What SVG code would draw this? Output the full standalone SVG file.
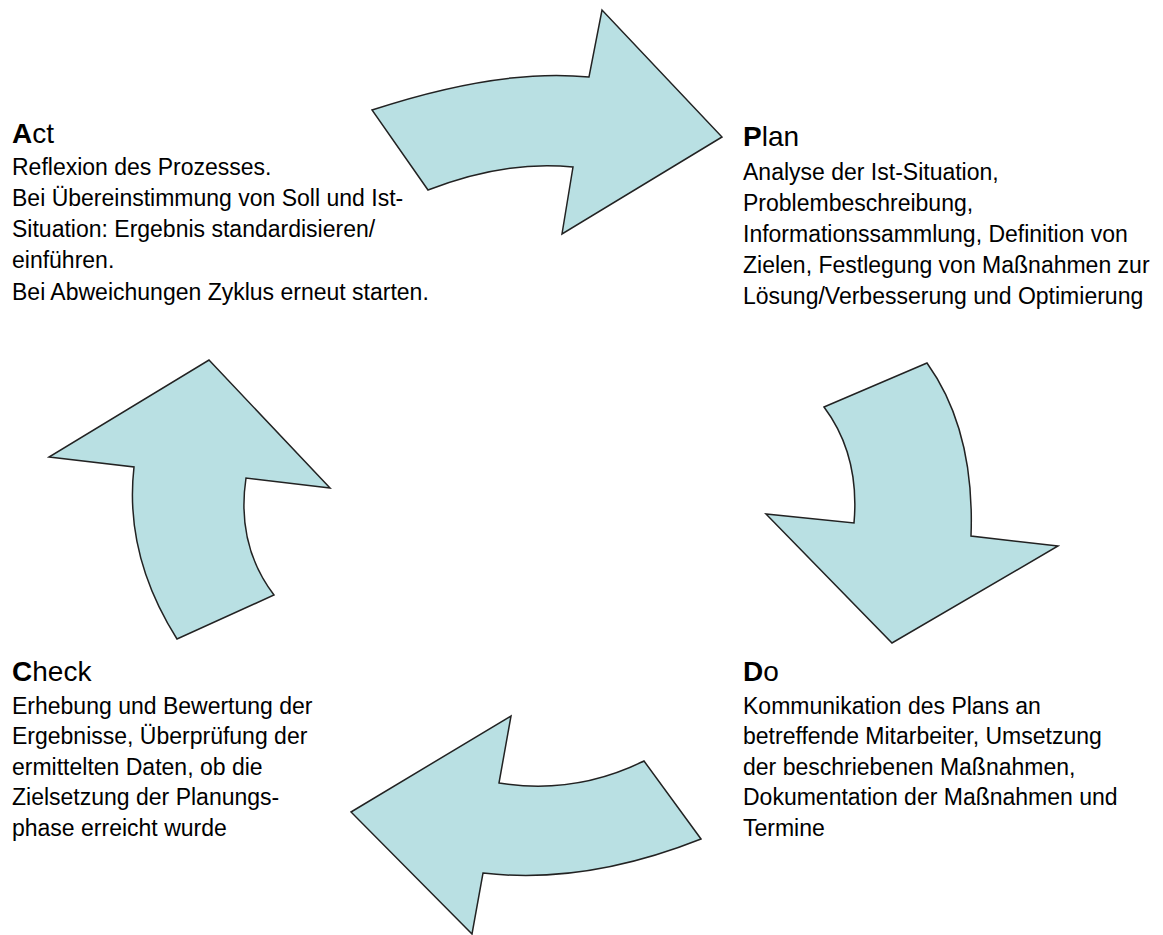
<svg xmlns="http://www.w3.org/2000/svg" width="1163" height="935" viewBox="0 0 1163 935">
  <style>
    .arrow { fill: #b9e0e3; stroke: #222; stroke-width: 1.5; stroke-linejoin: miter; }
    .title { font-family: "Liberation Sans", Arial, sans-serif; font-size: 28px; fill: #000; }
    .title tspan.k { font-weight: bold; }
    .body { font-family: "Liberation Sans", Arial, sans-serif; font-size: 23px; fill: #000; }
  </style>
  <rect width="1163" height="935" fill="#fff"/>

  <!-- curved cycle arrows -->
  <g id="connectors">
    <!-- Act -> Plan (top) -->
    <path class="arrow" d="M372,110 Q500,68 589,77 L602,10 L722,137 L562,234 L573,167 Q505,160 428,190 Z"/>
    <!-- Plan -> Do (right) -->
    <path class="arrow" d="M824,407 L927,363 Q975,430 971,536 L1058,546 L892,643 L766,514 L854,523 Q860,455 824,407 Z"/>
    <!-- Do -> Check (bottom) -->
    <path class="arrow" d="M511,716 L499,783 Q575,795 644,761 L701,839 Q585,885 483,873 L472,934 L351,812 Z"/>
    <!-- Check -> Act (left) -->
    <path class="arrow" d="M209,360 L330,488 L246,478 Q236,545 274,595 L177,639 Q124,555 134,467 L49,457 Z"/>
  </g>

  <g id="act">
    <text class="title" x="12" y="143"><tspan class="k">A</tspan>ct</text>
    <text class="body" x="12" y="175">Reflexion des Prozesses.</text>
    <text class="body" x="12" y="206">Bei Übereinstimmung von Soll und Ist-</text>
    <text class="body" x="12" y="237">Situation: Ergebnis standardisieren/</text>
    <text class="body" x="12" y="268">einführen.</text>
    <text class="body" x="12" y="299.5">Bei Abweichungen Zyklus erneut starten.</text>
  </g>

  <g id="plan">
    <text class="title" x="743" y="146"><tspan class="k">P</tspan>lan</text>
    <text class="body" x="743" y="180">Analyse der Ist-Situation,</text>
    <text class="body" x="743" y="211">Problembeschreibung,</text>
    <text class="body" x="743" y="242">Informationssammlung, Definition von</text>
    <text class="body" x="743" y="273">Zielen, Festlegung von Maßnahmen zur</text>
    <text class="body" x="743" y="304">Lösung/Verbesserung und Optimierung</text>
  </g>

  <g id="check">
    <text class="title" x="12" y="681"><tspan class="k">C</tspan>heck</text>
    <text class="body" x="12" y="713.5">Erhebung und Bewertung der</text>
    <text class="body" x="12" y="744">Ergebnisse, Überprüfung der</text>
    <text class="body" x="12" y="774.5">ermittelten Daten, ob die</text>
    <text class="body" x="12" y="805">Zielsetzung der Planungs-</text>
    <text class="body" x="12" y="835.5">phase erreicht wurde</text>
  </g>

  <g id="do">
    <text class="title" x="743" y="681"><tspan class="k">D</tspan>o</text>
    <text class="body" x="743" y="713.5">Kommunikation des Plans an</text>
    <text class="body" x="743" y="744">betreffende Mitarbeiter, Umsetzung</text>
    <text class="body" x="743" y="774.5">der beschriebenen Maßnahmen,</text>
    <text class="body" x="743" y="805">Dokumentation der Maßnahmen und</text>
    <text class="body" x="743" y="835.5">Termine</text>
  </g>
</svg>
